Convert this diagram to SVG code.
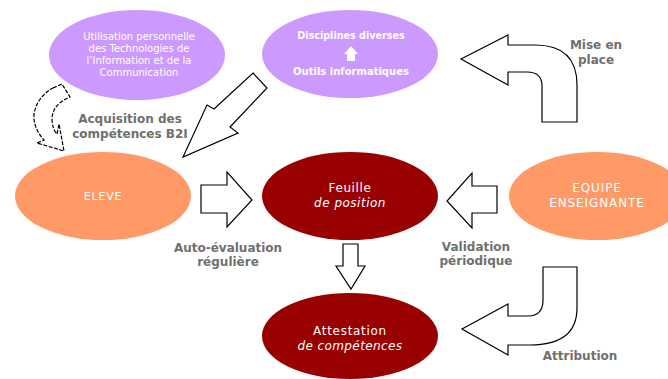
<svg xmlns="http://www.w3.org/2000/svg" width="668" height="379" viewBox="0 0 668 379">
<style>
.purple{fill:#CC99FF}
.orange{fill:#FF9966}
.red{fill:#990000}
.wt{fill:#ffffff;font-family:"DejaVu Sans",sans-serif;text-anchor:middle}
.lbl{fill:#6f6f6f;font-family:"DejaVu Sans",sans-serif;font-weight:bold;font-size:12px;text-anchor:middle}
.arr{fill:#ffffff;stroke:#000000;stroke-width:1.2;stroke-linejoin:miter}
.dash{fill:#ffffff;stroke:#000000;stroke-width:1.2;stroke-dasharray:4 1.5}
</style>
<rect width="668" height="379" fill="#ffffff"/>
<g id="connectors">
<path class="dash" d="M53,88 L62,84 L70,97 Q53,104 52,118 Q52,129 57,134 L59,124 L64,151 L37,143 L44,140 Q33,128 34,114 Q37,97 53,88 Z"/>
<polygon class="arr" points="253,73 267,88 230,127 238,133 183,157 207,105 214,109"/>
<polygon class="arr" points="201,185 227,185 227,172 252,200 227,227 227,213 201,213"/>
<polygon class="arr" points="497,186 472,186 472,173 447,201 472,228 472,213 497,213"/>
<polygon class="arr" points="343,244 358,244 358,266 365,266 351,289 336,266 343,266"/>
<path class="arr" d="M461,59 L508,35 L508,45 L535,45 Q577,45 577,85 L577,122 L542,122 L542,86 Q542,72 527,72 L508,72 L508,85 Z"/>
<path class="arr" d="M543,267 L577,267 L577,308 Q577,345 530,345 L508,345 L508,355 L462,329 L508,304 L508,316 L528,316 Q543,316 543,300 Z"/>
</g>
<g id="node-tic">
<ellipse class="purple" cx="137" cy="55" rx="88" ry="45"/>
<text class="wt" font-size="10" x="139" y="40">Utilisation personnelle</text>
<text class="wt" font-size="10" x="139" y="52">des Technologies de</text>
<text class="wt" font-size="10" x="139" y="64">l’Information et de la</text>
<text class="wt" font-size="10" x="139" y="76">Communication</text>
</g>
<g id="node-disciplines">
<ellipse class="purple" cx="350" cy="54" rx="88" ry="44"/>
<text class="wt" font-size="9.6" font-weight="bold" x="351" y="39">Disciplines diverses</text>
<polygon fill="#ffffff" points="351,46 358,54 355,54 355,61 347,61 347,54 344,54"/>
<text class="wt" font-size="10" font-weight="bold" x="351" y="75">Outils informatiques</text>
</g>
<g id="node-eleve">
<ellipse class="orange" cx="103" cy="196" rx="88" ry="44"/>
<text class="wt" font-size="11" letter-spacing="0.8" x="103" y="200">ELEVE</text>
</g>
<g id="node-feuille">
<ellipse class="red" cx="350" cy="196" rx="88" ry="44"/>
<text class="wt" font-size="12" letter-spacing="0.6" x="350" y="192">Feuille</text>
<text class="wt" font-size="12" font-style="italic" letter-spacing="0.5" x="350" y="207">de position</text>
</g>
<g id="node-equipe">
<ellipse class="orange" cx="597" cy="196" rx="88" ry="44"/>
<text class="wt" font-size="12" letter-spacing="0.9" x="597" y="192">EQUIPE</text>
<text class="wt" font-size="12" letter-spacing="0.9" x="597" y="207">ENSEIGNANTE</text>
</g>
<g id="node-attestation">
<ellipse class="red" cx="350" cy="336" rx="88" ry="43"/>
<text class="wt" font-size="12" letter-spacing="0.7" x="350" y="335">Attestation</text>
<text class="wt" font-size="12" font-style="italic" letter-spacing="0.4" x="350" y="350">de compétences</text>
</g>
<g id="labels">
<text class="lbl" x="130" y="123">Acquisition des</text>
<text class="lbl" x="130" y="138">compétences B2I</text>
<text class="lbl" x="596" y="49">Mise en</text>
<text class="lbl" x="596" y="64">place</text>
<text class="lbl" x="228" y="252">Auto-évaluation</text>
<text class="lbl" x="228" y="266">régulière</text>
<text class="lbl" x="476" y="251">Validation</text>
<text class="lbl" x="476" y="265">périodique</text>
<text class="lbl" x="580" y="360">Attribution</text>
</g>
</svg>
